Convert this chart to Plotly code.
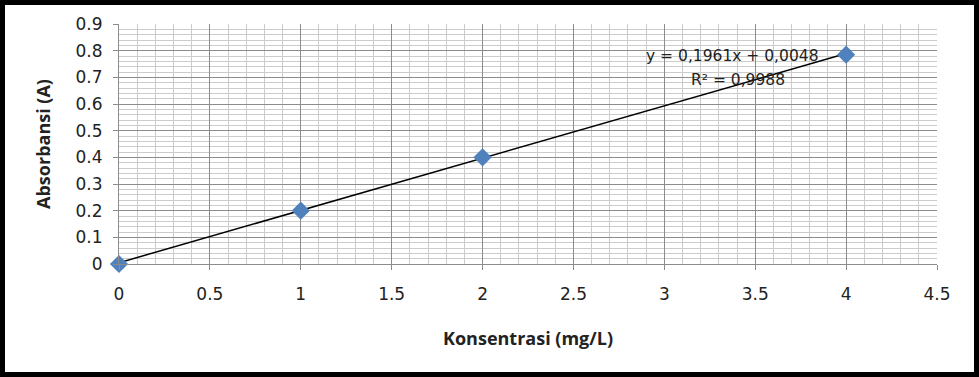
import plotly.graph_objects as go

# Data
konsentrasi = [0, 1, 2, 4]
absorbansi = [0.0, 0.2, 0.4, 0.785]
trend_x = [0, 4]
trend_y = [0.0048, 0.7892]
eq_text = "y = 0,1961x + 0,0048"
r2_text = "R² = 0,9988"
x_title = "Konsentrasi (mg/L)"
y_title = "Absorbansi (A)"

W, H = 979, 377
ML, MR, MT, MB = 119, 42, 24, 113
PW, PH = W - ML - MR, H - MT - MB

TFONT = "Open Sans, sans-serif"
NFONT = "DejaVu Sans, sans-serif"

fig = go.Figure()
fig.add_trace(go.Scatter(x=trend_x, y=trend_y, mode="lines",
                         line=dict(color="black", width=1.5), hoverinfo="skip",
                         showlegend=False, cliponaxis=False))
fig.add_trace(go.Scatter(x=konsentrasi, y=absorbansi, mode="markers",
                         marker=dict(symbol="diamond", size=14, color="#4F81BD",
                                     line=dict(width=0)),
                         showlegend=False, cliponaxis=False))

fig.add_annotation(x=3.375, y=0.78, xref="x", yref="y", text=eq_text,
                   showarrow=False, font=dict(family=NFONT, size=15.5, color="#222"))
fig.add_annotation(x=3.405, y=0.69, xref="x", yref="y", text=r2_text,
                   showarrow=False, font=dict(family=NFONT, size=15.5, color="#222"))

# outer frame
bw = 5
fig.add_shape(type="rect", xref="paper", yref="paper",
              x0=(-ML + bw / 2) / PW, x1=(PW + MR - bw / 2) / PW,
              y0=(-MB + bw / 2) / PH, y1=(PH + MT - bw / 2) / PH,
              line=dict(color="black", width=bw), fillcolor="rgba(0,0,0,0)")

fig.update_layout(
    template="none",
    width=W, height=H,
    margin=dict(l=ML, r=MR, t=MT, b=MB, autoexpand=False),
    paper_bgcolor="white", plot_bgcolor="white",
    font=dict(family=NFONT, size=17, color="#222"),
    xaxis=dict(range=[0, 4.5], dtick=0.5, tick0=0, automargin=False,
               showgrid=True, gridcolor="#8c8c8c", gridwidth=1,
               minor=dict(dtick=0.1, showgrid=True, gridcolor="#cccccc", gridwidth=1),
               showline=True, linecolor="#8c8c8c", linewidth=1,
               ticks="outside", ticklen=5, tickcolor="#8c8c8c",
               zeroline=False, ticklabelstandoff=10,
               tickfont=dict(family=NFONT, size=17),
               title=dict(text=f"<b>{x_title}</b>",
                          font=dict(family=TFONT, size=18), standoff=28)),
    yaxis=dict(range=[0, 0.9], dtick=0.1, tick0=0, automargin=False,
               showgrid=True, gridcolor="#8c8c8c", gridwidth=1,
               minor=dict(dtick=0.02, showgrid=True, gridcolor="#cccccc", gridwidth=1),
               showline=True, linecolor="#8c8c8c", linewidth=1,
               ticks="outside", ticklen=5, tickcolor="#8c8c8c",
               zeroline=False, ticklabelstandoff=7,
               tickfont=dict(family=NFONT, size=17),
               title=dict(text=f"<b>{y_title}</b>",
                          font=dict(family=TFONT, size=18), standoff=20)),
)

fig.write_html("out.html",
               config={"displayModeBar": False},
               post_script="document.body.style.margin='0';"
                           "document.body.style.overflow='hidden';")
